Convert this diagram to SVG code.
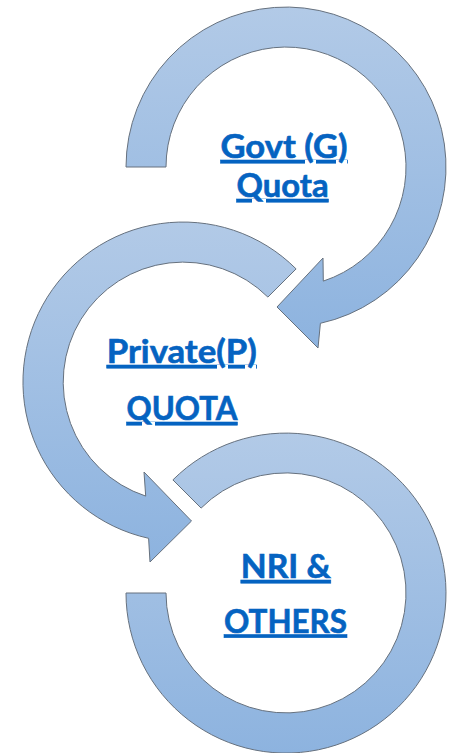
<svg xmlns="http://www.w3.org/2000/svg" width="454" height="753" viewBox="0 0 454 753">
  <defs>
    <linearGradient id="ringFill" x1="0" y1="0" x2="0" y2="1">
      <stop offset="0" stop-color="#b2cae7"/>
      <stop offset="1" stop-color="#8db3df"/>
    </linearGradient>
    <style>
      .ring { fill: url(#ringFill); stroke: #66717e; stroke-width: 1; stroke-linejoin: miter; }
      .label { font-family: "Lato", "Liberation Sans", sans-serif; font-weight: bold; font-size: 32px; fill: #0563c1; stroke: #0563c1; stroke-width: 0.6; text-anchor: middle; text-decoration: underline; }
    </style>
  </defs>
  <rect width="454" height="753" fill="#ffffff"/>

  <g id="node-govt">
    <path class="ring" d="M126,167 A160,160 0 1 1 320.4,323.3 L318,348 L277,307 L323,258 L323.3,281.1 A120,120 0 1 0 166,167 Z"/>
    <text class="label" x="284" y="158" textLength="127" lengthAdjust="spacingAndGlyphs">Govt (G)</text>
    <text class="label" x="282.5" y="197" textLength="92" lengthAdjust="spacingAndGlyphs">Quota</text>
  </g>

  <g id="node-private">
    <path class="ring" d="M296.1,268.9 A160,160 0 1 0 148.6,538.3 L150,562 L191.5,521 L144,472 L145.7,496.1 A120,120 0 1 1 267.9,297.1 Z"/>
    <text class="label" x="181.7" y="363" textLength="150" lengthAdjust="spacingAndGlyphs">Private(P)</text>
    <text class="label" x="182" y="420" textLength="111" lengthAdjust="spacingAndGlyphs">QUOTA</text>
  </g>

  <g id="node-nri">
    <path class="ring" d="M172.9,479.9 A160,160 0 1 1 126,593 L166,593 A120,120 0 1 0 201.1,508.1 Z"/>
    <text class="label" x="285.8" y="578" textLength="90" lengthAdjust="spacingAndGlyphs">NRI &amp;</text>
    <text class="label" x="285.5" y="632.5" textLength="123" lengthAdjust="spacingAndGlyphs">OTHERS</text>
  </g>

  <g id="connectors"/>
</svg>
